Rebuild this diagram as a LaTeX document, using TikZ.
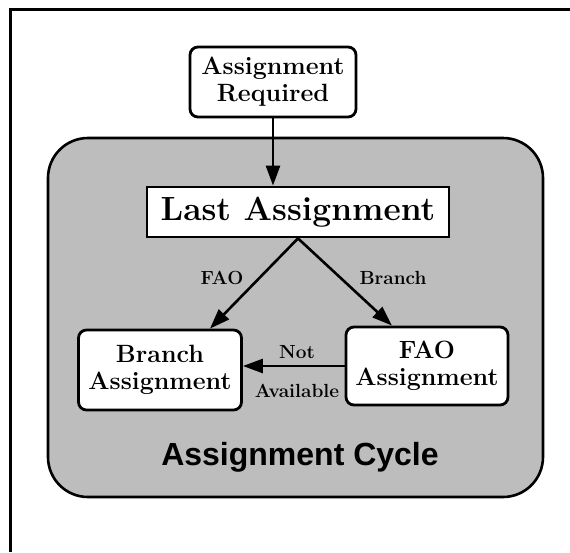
\documentclass[tikz,border=0pt]{standalone}
\usepackage{fontspec}
\newfontfamily\cyclefont{Liberation Sans}
\usetikzlibrary{arrows.meta, positioning}
\definecolor{CycleGray}{gray}{0.74}

\tikzset{
    box/.style={draw, fill=white, line width=2.8pt, align=center, font=\bfseries\fontsize{25}{27}\selectfont, inner sep=0pt},
    rbox/.style={box, rounded corners=8pt},
    flow/.style={-{Triangle[length=20pt, width=14pt]}, line width=2.6pt},
    lbl/.style={font=\bfseries\fontsize{19}{21}\selectfont}
}

\begin{document}
\begin{tikzpicture}[x=1pt, y=-1pt]
        \useasboundingbox (0,0) rectangle (570,552);

        % 1. Page frame (open on right and bottom)
        \draw[line width=3pt] (10,552) -- (10,9) -- (570,9);

        % 2. Shaded cycle region
        \draw[line width=2.6pt, fill=CycleGray, rounded corners=40pt] (48,138) rectangle (543,497);
        \node[font=\cyclefont\bfseries\fontsize{32}{36}\selectfont] (cycle) at (300,457) {Assignment Cycle};

        % 3. Boxes
        \node[rbox, minimum width=166pt, minimum height=70pt] (req) at (273,82) {Assignment\\Required};
        \node[box, minimum width=302pt, minimum height=50pt, font=\bfseries\fontsize{33.5}{36}\selectfont] (last) at (298,212) {Last Assignment};
        \node[rbox, minimum width=163pt, minimum height=80pt] (bra) at (160,370) {Branch\\Assignment};
        \node[rbox, minimum width=162pt, minimum height=78pt] (fao) at (427,366) {FAO\\Assignment};

        % 4. Connectors
        \draw[flow] (req.south) -- (req.south |- last.north);
        \draw[flow] (last.south) -- ([xshift=50pt]bra.north);
        \draw[flow] (last.south) -- ([xshift=-35pt]fao.north);
        \draw[flow] (fao.west) -- (fao.west -| bra.east);

        % Labels
        \node[lbl] (lfao) at (222,278) {FAO};
        \node[lbl] (lbra) at (393,278) {Branch};
        \node[lbl] (lnot) at (297,352) {Not};
        \node[lbl] (lava) at (297,391) {Available};

    \end{tikzpicture}
\end{document}
